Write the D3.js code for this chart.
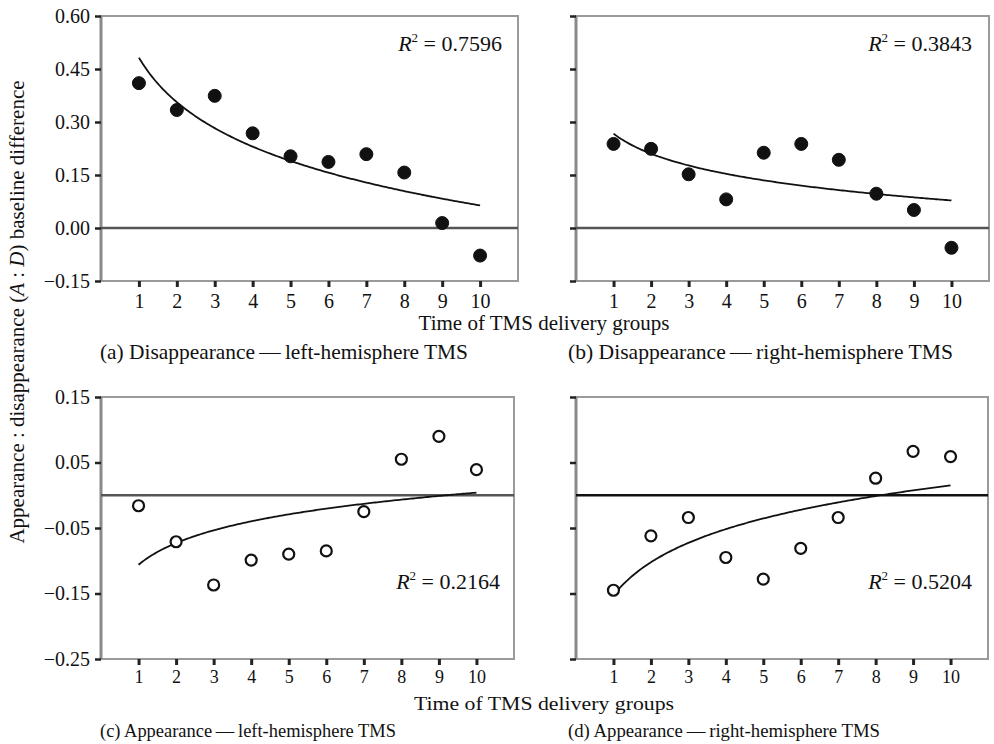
<!DOCTYPE html>
<html><head><meta charset="utf-8">
<script src="https://cdn.jsdelivr.net/npm/d3@7"></script>
<style>
body{margin:0;background:#fff;}
svg text{font-family:"Liberation Serif","Times New Roman",serif;fill:#111;}
</style></head>
<body>
<script>
// ---- data ----
const groups = [1,2,3,4,5,6,7,8,9,10];
const dLeft  = [0.410,0.334,0.374,0.268,0.203,0.187,0.209,0.157,0.014,-0.078];
const dRight = [0.238,0.224,0.152,0.081,0.213,0.238,0.193,0.097,0.051,-0.056];
const aLeft  = [-0.016,-0.071,-0.137,-0.099,-0.090,-0.085,-0.025,0.055,0.090,0.039];
const aRight = [-0.145,-0.062,-0.034,-0.095,-0.128,-0.081,-0.034,0.026,0.067,0.059];
const r2Labels = ["0.7596","0.3843","0.2164","0.5204"];
const captions = ["Disappearance\u2009\u2014\u2009left-hemisphere TMS","Disappearance\u2009\u2014\u2009right-hemisphere TMS",
                  "Appearance\u2009\u2014\u2009left-hemisphere TMS","Appearance\u2009\u2014\u2009right-hemisphere TMS"];
const captionTags = ["(a)","(b)","(c)","(d)"];
const topTicks = [-0.15,0,0.15,0.30,0.45,0.60];
const bottomTicks = [-0.25,-0.15,-0.05,0.05,0.15];
const xTitle = "Time of TMS delivery groups";

const W=994,H=744;
const svg=d3.select("body").append("svg").attr("width",W).attr("height",H);

const panels=[
 {vals:dLeft, x0:101,x1:518,y0:16,y1:281,dom:[-0.15,0.60],ticks:topTicks,labels:true,filled:true,r2:{x:502,y:51},cap:{x:100,y:359,w:368},xfs:20,xpad:7},
 {vals:dRight,x0:576,x1:989,y0:16,y1:281,dom:[-0.15,0.60],ticks:topTicks,labels:false,filled:true,r2:{x:972,y:51},cap:{x:568,y:359,w:385},xfs:20,xpad:7},
 {vals:aLeft, x0:101,x1:514,y0:397,y1:659,dom:[-0.25,0.15],ticks:bottomTicks,labels:true,filled:false,r2:{x:500,y:589},cap:{x:100,y:737,w:296},xfs:18,xpad:5},
 {vals:aRight,x0:576,x1:988,y0:397,y1:659,dom:[-0.25,0.15],ticks:bottomTicks,labels:false,filled:false,r2:{x:972,y:589},cap:{x:568,y:737,w:312},xfs:18,xpad:5}
];

function logFit(xs,ys){
  const lx=xs.map(Math.log), n=xs.length;
  const mx=d3.mean(lx), my=d3.mean(ys);
  let sxy=0,sxx=0;
  for(let i=0;i<n;i++){sxy+=(lx[i]-mx)*(ys[i]-my);sxx+=(lx[i]-mx)**2;}
  const b=sxy/sxx, a=my-b*mx;
  return x=>a+b*Math.log(x);
}

panels.forEach((p,i)=>{
  const g=svg.append("g");
  const x=d3.scaleLinear().domain([0,11]).range([p.x0,p.x1]);
  const y=d3.scaleLinear().domain(p.dom).range([p.y1,p.y0]);
  // frame
  g.append("rect").attr("x",p.x0).attr("y",p.y0).attr("width",p.x1-p.x0).attr("height",p.y1-p.y0)
   .attr("fill","none").attr("stroke","#9a9a9a").attr("stroke-width",2);
  g.append("line").attr("x1",p.x0).attr("x2",p.x0).attr("y1",p.y0).attr("y2",p.y1)
   .attr("stroke","#8a8a8a").attr("stroke-width",3);
  // y axis
  const ya=g.append("g").attr("transform",`translate(${p.x0},0)`)
   .call(d3.axisLeft(y).tickValues(p.ticks).tickSize(6).tickPadding(5)
     .tickFormat(p.labels?d3.format(".2f"):()=>""));
  ya.select(".domain").remove();
  ya.selectAll(".tick line").attr("stroke","#222").attr("stroke-width",2.5);
  ya.selectAll(".tick text").style("font-size","20px").attr("fill","#111");
  // x axis
  const xa=g.append("g").attr("transform",`translate(0,${p.y1})`)
   .call(d3.axisBottom(x).tickValues(groups).tickSize(6).tickPadding(p.xpad).tickFormat(d3.format("d")));
  xa.select(".domain").remove();
  xa.selectAll(".tick line").attr("stroke","#222").attr("stroke-width",3);
  xa.selectAll(".tick text").style("font-size",p.xfs+"px").attr("fill","#111");
  // zero line
  g.append("line").attr("x1",p.x0).attr("x2",p.x1).attr("y1",y(0)).attr("y2",y(0))
   .attr("stroke",i===3?"#111":"#555").attr("stroke-width",2.5);
  // fitted log curve
  const f=logFit(groups,p.vals);
  const xs=d3.range(1,10.001,0.05);
  g.append("path").datum(xs).attr("fill","none").attr("stroke","#111").attr("stroke-width",1.8)
   .attr("d",d3.line().x(d=>x(d)).y(d=>y(f(d))));
  // points
  g.selectAll("circle.pt").data(p.vals).join("circle").attr("class","pt")
   .attr("cx",(d,j)=>x(groups[j])).attr("cy",d=>y(d))
   .attr("r",p.filled?6.5:5.5)
   .attr("fill",p.filled?"#111":"#fff").attr("stroke","#111").attr("stroke-width",p.filled?1:2.2);
  // R² label
  const t=g.append("text").attr("x",p.r2.x).attr("y",p.r2.y).attr("text-anchor","end").style("font-size","22px");
  t.append("tspan").style("font-style","italic").text("R");
  t.append("tspan").attr("dy",-9).style("font-size","13px").text("2");
  t.append("tspan").attr("dy",9).text(" = "+r2Labels[i]);
  // caption
  svg.append("text").attr("x",p.cap.x).attr("y",p.cap.y).style("font-size",i<2?"21px":"19px")
   .attr("textLength",p.cap.w).attr("lengthAdjust","spacingAndGlyphs")
   .text(captionTags[i]+" "+captions[i]);
});

// x titles
svg.append("text").attr("x",544).attr("y",330).attr("text-anchor","middle").style("font-size","21px").text(xTitle);
svg.append("text").attr("x",544).attr("y",710).attr("text-anchor","middle").style("font-size","19px")
   .attr("textLength",260).attr("lengthAdjust","spacingAndGlyphs").text(xTitle);
// y title
const yt=svg.append("text").attr("transform","translate(24,312) rotate(-90)").attr("text-anchor","middle").style("font-size","21px");
yt.append("tspan").text("Appearance : disappearance (");
yt.append("tspan").style("font-style","italic").text("A");
yt.append("tspan").text(" : ");
yt.append("tspan").style("font-style","italic").text("D");
yt.append("tspan").text(") baseline difference");
</script>
</body></html>
